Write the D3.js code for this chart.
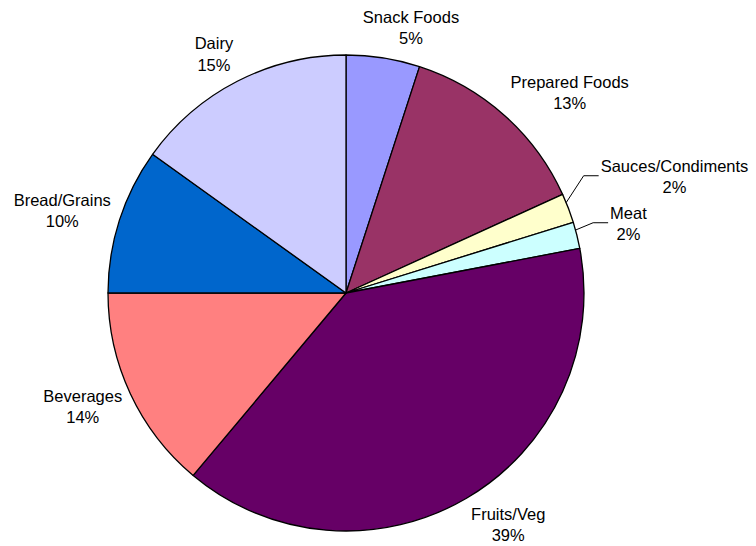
<!DOCTYPE html>
<html>
<head>
<meta charset="utf-8">
<script src="https://cdn.jsdelivr.net/npm/d3@7"></script>
<style>
  html, body { margin: 0; padding: 0; background: #fff; }
  svg { display: block; }
  text { font-family: "Liberation Sans", Arial, sans-serif; fill: #000; }
</style>
</head>
<body>
<svg id="chart" width="756" height="546"></svg>
<script>
// ---- data ----
const categories = ["Snack Foods", "Prepared Foods", "Sauces/Condiments", "Meat",
                    "Fruits/Veg", "Beverages", "Bread/Grains", "Dairy"];
const shares = [5.0, 13.2, 2.0, 1.8, 39.1, 13.9, 9.9, 15.1];
const percentLabels = ["5%", "13%", "2%", "2%", "39%", "14%", "10%", "15%"];
const colors = ["#9999FF", "#993366", "#FFFFCC", "#CCFFFF",
                "#660066", "#FF8080", "#0066CC", "#CCCCFF"];

// ---- layout ----
const W = 756, H = 546;
const cx = 346, cy = 293, R = 238;
const fontSize = 16.5, lineH = 21.5;

const svg = d3.select("#chart");
const g = svg.append("g").attr("transform", `translate(${cx},${cy})`);

const data = categories.map((c, i) => ({ name: c, value: shares[i], pct: percentLabels[i], color: colors[i] }));
const pie = d3.pie().value(d => d.value).sort(null).startAngle(0).endAngle(2 * Math.PI);
const arcs = pie(data);
const arc = d3.arc().innerRadius(0).outerRadius(R);

g.selectAll("path.slice")
  .data(arcs)
  .join("path")
  .attr("class", "slice")
  .attr("d", arc)
  .attr("fill", d => d.data.color)
  .attr("stroke", "#000")
  .attr("stroke-width", 1.3)
  .attr("stroke-linejoin", "round");

// ---- labels ----
const labels = g.selectAll("g.label")
  .data(arcs)
  .join("g")
  .attr("class", "label");

labels.append("text")
  .attr("class", "l1")
  .attr("text-anchor", "middle")
  .attr("font-size", fontSize)
  .text(d => d.data.name);
labels.append("text")
  .attr("class", "l2")
  .attr("text-anchor", "middle")
  .attr("font-size", fontSize)
  .text(d => d.data.pct);

const clamp1 = v => Math.max(-1, Math.min(1, v));
const boxes = [];
labels.each(function(d) {
  const sel = d3.select(this);
  const w = Math.max(sel.select(".l1").node().getComputedTextLength(),
                     sel.select(".l2").node().getComputedTextLength());
  const h = 2 * lineH;
  const span = d.endAngle - d.startAngle;
  const mid = (d.startAngle + d.endAngle) / 2;
  const small = (d.data.value < 3);
  const gap = small ? 26 : 9;
  const s = Math.sin(mid), c = Math.cos(mid);
  const ax = (R + gap) * s, ay = -(R + gap) * c;
  let x = ax + (w / 2) * clamp1(s * 3.5);
  let y = ay + (h / 2) * clamp1(-c);
  if (small) x = ax + w / 2 + 8;
  boxes.push({ d, w, h, x, y, small, sel, mid, span });
});

// resolve overlaps among small (leader) labels: push earlier ones upward
for (let i = boxes.length - 1; i >= 0; i--) {
  const b = boxes[i];
  if (!b.small) continue;
  for (let j = i + 1; j < boxes.length; j++) {
    const o = boxes[j];
    if (!o.small) continue;
    const overlapX = Math.abs(b.x - o.x) < (b.w + o.w) / 2;
    const overlapY = (b.y + b.h / 2 + 4) > (o.y - o.h / 2);
    if (overlapX && overlapY) b.y = o.y - o.h / 2 - 4 - b.h / 2;
  }
}

boxes.forEach(b => {
  b.sel.attr("transform", `translate(${b.x},${b.y})`);
  b.sel.select(".l1").attr("y", -lineH / 2 + fontSize * 0.35);
  b.sel.select(".l2").attr("y", lineH / 2 + fontSize * 0.35);
  if (b.small) {
    const lineY = b.y - 1;
    const hx1 = b.x - b.w / 2 - 2;   // end next to label
    const hx0 = hx1 - 15;           // elbow
    let ang = Math.atan2(hx0, -lineY);
    const lo = b.d.startAngle + 0.3 * b.span, hi = b.d.endAngle - 0.3 * b.span;
    ang = Math.max(lo, Math.min(hi, ang));
    const px = R * Math.sin(ang), py = -R * Math.cos(ang);
    g.append("polyline")
      .attr("points", `${px},${py} ${hx0},${lineY} ${hx1},${lineY}`)
      .attr("fill", "none")
      .attr("stroke", "#000")
      .attr("stroke-width", 1);
  }
});
</script>
</body>
</html>
